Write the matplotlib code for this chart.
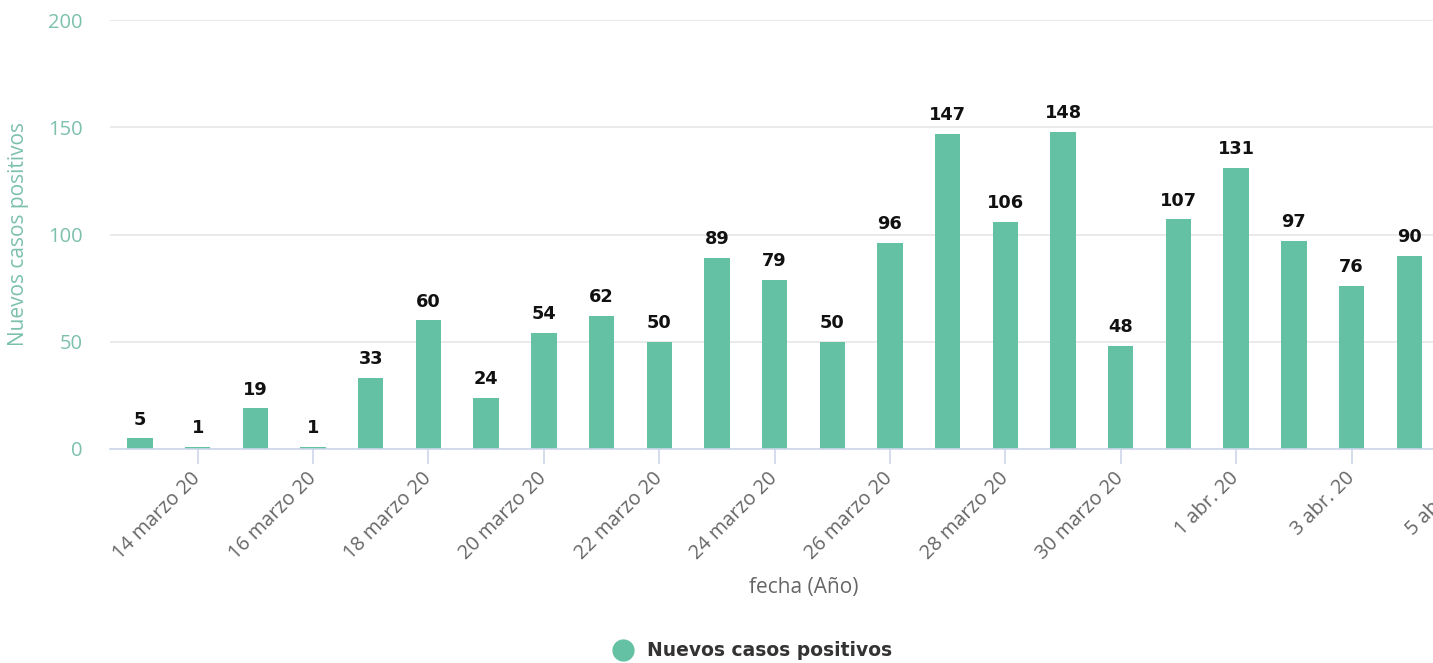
import numpy as np
import matplotlib.pyplot as plt
from matplotlib.lines import Line2D

# data: daily new positive cases, 13 marzo 20 .. 4 abr. 20
values = [5, 1, 19, 1, 33, 60, 24, 54, 62, 50, 89, 79, 50, 96,
          147, 106, 148, 48, 107, 131, 97, 76, 90]
tick_labels = ["14 marzo 20", "16 marzo 20", "18 marzo 20", "20 marzo 20",
               "22 marzo 20", "24 marzo 20", "26 marzo 20", "28 marzo 20",
               "30 marzo 20", "1 abr. 20", "3 abr. 20", "5 abr. 20"]
y_ticks = [0, 50, 100, 150, 200]

BAR_COLOR = "#64c1a3"
AXIS_TEAL = "#7cc0ad"

plt.rcParams['font.family'] = ['Open Sans', 'DejaVu Sans']

fig = plt.figure(figsize=(14.33, 6.63), dpi=100)
ax = fig.add_axes([110 / 1433, 1 - 449 / 663, 1380 / 1433, 429 / 663])

x = np.arange(len(values))
bars = ax.bar(x, values, width=0.44, color=BAR_COLOR, zorder=2)
ax.bar_label(bars, labels=[str(v) for v in values], padding=7,
             fontsize=12.8, fontweight='bold', color='#111111',
             family='DejaVu Sans')

ax.set_xlim(-0.52, 23.4)
ax.set_ylim(0, 200)

ax.set_yticks(y_ticks)
ax.set_yticklabels([str(t) for t in y_ticks], color=AXIS_TEAL, fontsize=14.5)
ax.tick_params(axis='y', length=0, pad=19.5)
ax.yaxis.grid(True, color='#e6e6e6', linewidth=1.2, zorder=0)

ax.set_xticks(np.arange(1, 2 * len(tick_labels), 2))
ax.set_xticklabels(tick_labels, rotation=45, ha='right', va='center',
                   rotation_mode='anchor', color='#666666', fontsize=14.3)
ax.tick_params(axis='x', length=11, color='#ccd6eb', width=1.2, pad=8)

for side in ['top', 'right', 'left']:
    ax.spines[side].set_visible(False)
ax.spines['bottom'].set_color('#ccd6eb')
ax.spines['bottom'].set_linewidth(1.2)

ax.set_ylabel("Nuevos casos positivos", color=AXIS_TEAL, fontsize=15)
ax.yaxis.set_label_coords(-(110 - 29) / 1380, 0.5)
fig.text(804 / 1433, 1 - 588 / 663, "fecha (Año)", ha='center', va='center',
         color='#666666', fontsize=15)

handle = Line2D([], [], marker='o', linestyle='none', markersize=15,
                markerfacecolor=BAR_COLOR, markeredgecolor=BAR_COLOR)
fig.legend(handles=[handle], labels=["Nuevos casos positivos"],
           loc='center', bbox_to_anchor=(748 / 1433, 1 - 651 / 663),
           frameon=False, handletextpad=0.25,
           prop={'weight': 'bold', 'size': 13.5, 'family': 'DejaVu Sans'},
           labelcolor='#333333')

fig.savefig("out.png", dpi=100)
